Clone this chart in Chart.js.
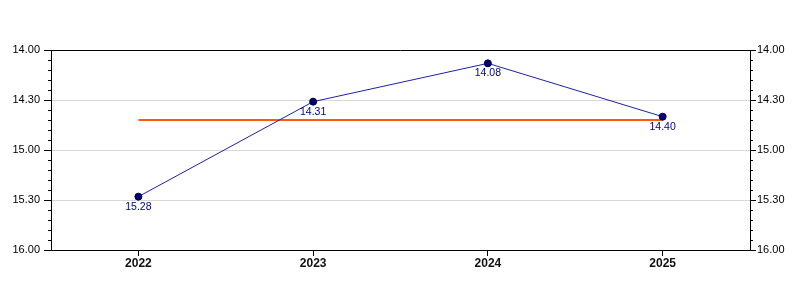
<!DOCTYPE html>
<html>
<head>
<meta charset="utf-8">
<script src="https://cdn.jsdelivr.net/npm/chart.js@4/dist/chart.umd.min.js"></script>
<style>
  html, body { margin: 0; padding: 0; background: #fff; }
</style>
</head>
<body>
<canvas id="chart" width="800" height="300"></canvas>
<script>
// chart data (times written as min.sec, like the labels)
var years = ['2022', '2023', '2024', '2025'];
var times = ['15.28', '14.31', '14.08', '14.40'];
var avgLine = ['14.42', '14.42', '14.42', '14.42'];
var tickMin = '14.00';
var tickMax = '16.00';

// "15.28" -> seconds
function toSec(s) {
  var p = s.split('.');
  return parseInt(p[0], 10) * 60 + parseInt(p[1], 10);
}
function fmt(v) {
  var m = Math.floor(v / 60), s = v % 60;
  return m + '.' + (s < 10 ? '0' : '') + s;
}

var FONT = "'Liberation Sans', Arial, sans-serif";

// top border + minor ticks on both y axes
var framePlugin = {
  id: 'frame',
  afterDraw: function (chart) {
    var ctx = chart.ctx, a = chart.chartArea;
    ctx.save();
    ctx.strokeStyle = '#000';
    ctx.lineWidth = 1;
    ctx.beginPath();
    ctx.moveTo(a.left, Math.round(a.top) + 0.5);
    ctx.lineTo(a.right, Math.round(a.top) + 0.5);
    ctx.stroke();
    ['y', 'y2'].forEach(function (id) {
      var sc = chart.scales[id];
      for (var v = toSec(tickMin); v <= toSec(tickMax); v += 6) {
        if (v % 30 === 0) continue;
        var y = Math.round(sc.getPixelForValue(v)) + 0.5;
        ctx.beginPath();
        if (id === 'y') {
          ctx.moveTo(a.left - 3, y); ctx.lineTo(a.left, y);
        } else {
          ctx.moveTo(a.right, y); ctx.lineTo(a.right + 3, y);
        }
        ctx.stroke();
      }
    });
    ctx.restore();
  }
};

// value labels under the points
var labelPlugin = {
  id: 'pointLabels',
  afterDatasetsDraw: function (chart) {
    var ctx = chart.ctx;
    var meta = chart.getDatasetMeta(0);
    ctx.save();
    ctx.font = '10.5px ' + FONT;
    ctx.fillStyle = '#00008b';
    ctx.textAlign = 'center';
    ctx.textBaseline = 'middle';
    meta.data.forEach(function (pt, i) {
      ctx.fillText(times[i], pt.x, pt.y + 10);
    });
    ctx.restore();
  }
};

new Chart(document.getElementById('chart'), {
  type: 'line',
  data: {
    labels: years,
    datasets: [
      {
        data: times.map(toSec),
        borderColor: '#2020a8',
        borderWidth: 1,
        pointRadius: 3.5,
        pointBackgroundColor: '#000080',
        pointBorderColor: '#000030',
        pointBorderWidth: 1,
        tension: 0,
        yAxisID: 'y'
      },
      {
        data: avgLine.map(toSec),
        borderColor: '#ff5a0a',
        borderWidth: 2,
        pointRadius: 0,
        tension: 0,
        yAxisID: 'y',
        order: 1
      }
    ]
  },
  options: {
    responsive: false,
    animation: false,
    layout: { padding: { top: 50 } },
    plugins: { legend: { display: false }, tooltip: { enabled: false } },
    scales: {
      x: {
        offset: true,
        grid: { drawOnChartArea: false, tickLength: 6, tickColor: '#000', offset: false },
        border: { color: '#000', width: 1 },
        ticks: { color: '#111', padding: 0, font: { family: FONT, size: 12, weight: 'bold' } },
        afterFit: function (s) { s.height = 50; }
      },
      y: {
        position: 'left',
        reverse: true,
        min: toSec(tickMin),
        max: toSec(tickMax),
        grid: {
          tickLength: 7,
          tickColor: '#000',
          color: function (c) {
            var v = c.tick && c.tick.value;
            return (v === toSec(tickMin) || v === toSec(tickMax)) ? 'rgba(0,0,0,0)' : '#d8d8d8';
          }
        },
        border: { color: '#000', width: 1 },
        ticks: { stepSize: 30, color: '#000', padding: 4, font: { family: FONT, size: 11 }, callback: fmt },
        afterFit: function (s) { s.width = 51; }
      },
      y2: {
        position: 'right',
        reverse: true,
        min: toSec(tickMin),
        max: toSec(tickMax),
        grid: { drawOnChartArea: false, tickLength: 6, tickColor: '#000' },
        border: { color: '#000', width: 1 },
        ticks: { stepSize: 30, color: '#000', padding: 1, font: { family: FONT, size: 11 }, callback: fmt },
        afterFit: function (s) { s.width = 50; }
      }
    }
  },
  plugins: [framePlugin, labelPlugin]
});
</script>
</body>
</html>
